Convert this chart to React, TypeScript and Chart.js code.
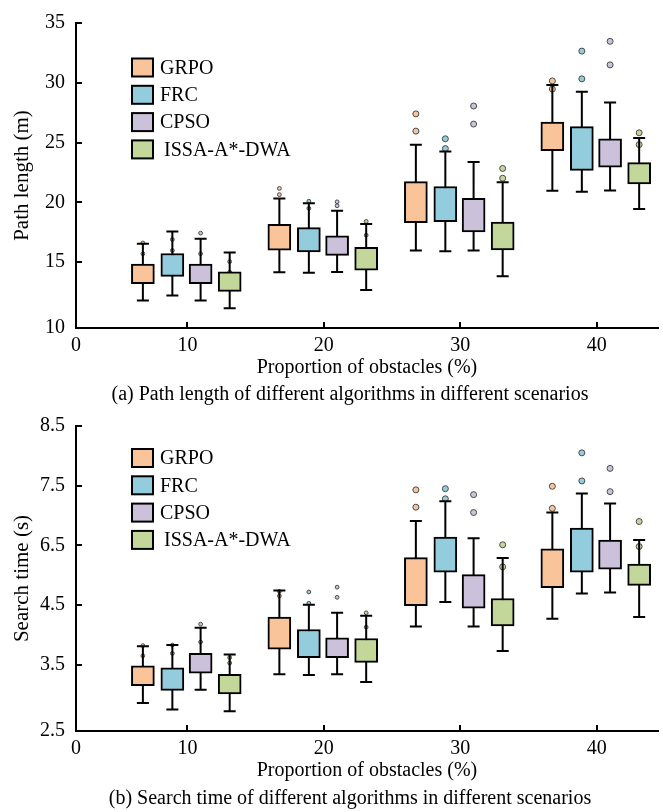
import React, { useEffect, useRef } from 'react';
import { Chart, registerables, LinearScale } from 'chart.js';

// ---------------- data ----------------
const ALGORITHMS = ['GRPO', 'FRC', 'CPSO', 'ISSA-A*-DWA'];
const COLORS = ['#F9C49A', '#93CDDD', '#CCC1DA', '#C4D79B'];
const OBSTACLE_LEVELS = [10, 20, 30, 40];
const X_TICK_LABELS = ['0', '10', '20', '30', '40'];

// (a) Path length (m): rows = algorithm, columns = obstacle level
const LENGTH_TICKS = [10, 15, 20, 25, 30, 35];
const LENGTH_WHISKER_LOW = [
  [11.8, 14.17, 15.98, 20.98],
  [12.21, 14.12, 15.92, 20.9],
  [11.8, 14.19, 15.98, 21.0],
  [11.16, 12.67, 13.82, 19.45],
];
const LENGTH_Q1 = [
  [13.21, 16.0, 18.3, 24.32],
  [13.82, 15.87, 18.38, 22.68],
  [13.21, 15.57, 17.54, 22.95],
  [12.56, 14.34, 16.03, 21.55],
];
const LENGTH_Q3 = [
  [14.85, 18.17, 21.74, 26.72],
  [15.73, 17.89, 21.33, 26.33],
  [14.85, 17.21, 20.35, 25.32],
  [14.19, 16.25, 18.36, 23.33],
];
const LENGTH_WHISKER_HIGH = [
  [16.55, 20.32, 24.83, 29.81],
  [17.56, 19.94, 24.26, 29.26],
  [16.96, 19.31, 23.38, 28.36],
  [15.81, 18.19, 21.69, 25.38],
];
const LENGTH_OUTLIERS = [
  [[16.61, 15.71], [21.17, 20.65], [27.4, 25.96], [30.16, 29.48]],
  [[16.9, 15.98], [20.1, 19.5], [25.32, 24.5], [32.65, 30.33]],
  [[17.43, 15.71], [20.05, 19.72], [28.06, 26.55], [33.47, 31.5]],
  [[15.05, 14.17], [18.41, 17.26], [22.84, 22.02], [25.82, 24.83]],
];

// (b) Search time (s)
const TIME_TICKS = [2.5, 3.5, 4.5, 6.5, 7.5, 8.5];
const TIME_WHISKER_LOW = [
  [2.86, 3.34, 4.14, 4.27],
  [2.75, 3.33, 4.6, 4.89],
  [3.08, 3.34, 4.14, 4.92],
  [2.72, 3.21, 3.73, 4.3],
];
const TIME_Q1 = [
  [3.15, 3.76, 4.49, 5.08],
  [3.07, 3.62, 5.6, 5.6],
  [3.36, 3.62, 4.45, 5.7],
  [3.01, 3.54, 4.15, 5.16],
];
const TIME_Q3 = [
  [3.48, 4.3, 6.09, 6.38],
  [3.45, 4.09, 6.64, 6.79],
  [3.69, 3.95, 5.52, 6.59],
  [3.34, 3.94, 4.72, 5.87],
];
const TIME_WHISKER_HIGH = [
  [3.81, 4.99, 6.91, 7.05],
  [3.83, 4.51, 7.24, 7.37],
  [4.12, 4.37, 6.62, 7.2],
  [3.67, 4.32, 6.08, 6.59],
];
const TIME_OUTLIERS = [
  [[3.82, 3.65], [4.96, 4.81], [7.43, 7.14], [7.49, 7.12]],
  [[3.83, 3.69], [4.94, 4.56], [7.45, 7.28], [8.05, 7.58]],
  [[4.18, 3.88], [5.1, 4.76], [7.35, 7.05], [7.79, 7.4]],
  [[3.62, 3.53], [4.37, 4.13], [6.51, 5.78], [6.9, 6.46]],
];

// ---------------- layout constants ----------------
const FONT = 'Liberation Serif';
const X_MIN = 1.84;
const X_MAX = 44.48;
const BOX_OFFSETS = [-3.26, -1.1, 0.97, 3.1];
const CAP_HALF = 0.44;
const BOX_PX = 23;

// Piecewise scale: listed tick values are evenly spaced on the axis
class PiecewiseScale extends LinearScale {
  static id = 'piecewise';
  static defaults = {};
  _idx(v: number): number {
    const b = TIME_TICKS;
    const n = b.length - 1;
    if (v <= b[1]) return (v - b[0]) / (b[1] - b[0]);
    for (let i = 1; i < n; i++) {
      if (v <= b[i + 1]) return i + (v - b[i]) / (b[i + 1] - b[i]);
    }
    return n + (v - b[n]) / (b[n] - b[n - 1]);
  }
  getPixelForValue(v: any): number {
    if (v === null || v === undefined || isNaN(v)) return NaN;
    const lo = this._idx((this as any).min);
    const hi = this._idx((this as any).max);
    return this.getPixelForDecimal((this._idx(v) - lo) / (hi - lo));
  }
  getValueForPixel(p: number): number {
    const lo = this._idx((this as any).min);
    const hi = this._idx((this as any).max);
    const idx = lo + this.getDecimalForPixel(p) * (hi - lo);
    const b = TIME_TICKS;
    const i = Math.max(0, Math.min(b.length - 2, Math.floor(idx)));
    return b[i] + (idx - i) * (b[i + 1] - b[i]);
  }
}

Chart.register(...registerables, PiecewiseScale as any);
Chart.defaults.font.family = FONT;
Chart.defaults.font.size = 20;
Chart.defaults.color = '#000';

const innerTicks = {
  id: 'innerTicks',
  afterDraw(chart: any) {
    const { ctx, chartArea } = chart;
    const xs = chart.scales.x;
    const ys = chart.scales.y;
    ctx.save();
    ctx.strokeStyle = '#000';
    ctx.lineWidth = 2;
    ctx.beginPath();
    xs.ticks.forEach((_t: any, i: number) => {
      if (i === 0) return;
      const px = Math.round(xs.getPixelForTick(i));
      ctx.moveTo(px, chartArea.bottom);
      ctx.lineTo(px, chartArea.bottom - 6);
    });
    ys.ticks.forEach((_t: any, i: number) => {
      if (i === 0) return;
      const py = Math.round(ys.getPixelForTick(i));
      ctx.moveTo(chartArea.left, py);
      ctx.lineTo(chartArea.left + 6, py);
    });
    ctx.stroke();
    ctx.restore();
  },
};

function makeLegend(firstRowOffset: number) {
  return {
    id: 'boxLegend',
    afterDraw(chart: any) {
      const { ctx, chartArea } = chart;
      ctx.save();
      ALGORITHMS.forEach((name, i) => {
        const cy = chartArea.top + firstRowOffset + i * 27.3;
        const bx = chartArea.left + 56;
        ctx.fillStyle = COLORS[i];
        ctx.fillRect(bx, cy - 9, 21, 18);
        ctx.strokeStyle = '#000';
        ctx.lineWidth = 2;
        ctx.strokeRect(bx, cy - 9, 21, 18);
        ctx.fillStyle = '#000';
        ctx.font = `20px "${FONT}"`;
        ctx.textBaseline = 'middle';
        ctx.textAlign = 'left';
        ctx.fillText(name, bx + 28 + (i === 3 ? 4 : 0), cy + 1);
      });
      ctx.restore();
    },
  };
}

function buildDatasets(low: number[][], q1: number[][], q3: number[][], high: number[][], outliers: number[][][]) {
  const sets: any[] = [];
  ALGORITHMS.forEach((name, a) => {
    const xs = OBSTACLE_LEVELS.map((lv) => lv + BOX_OFFSETS[a]);
    sets.push({
      type: 'bar',
      label: name,
      data: xs.map((x, j) => ({ x, y: [q1[a][j], q3[a][j]] })),
      backgroundColor: COLORS[a],
      borderColor: '#000',
      borderWidth: 2,
      borderSkipped: false,
      barThickness: BOX_PX,
      grouped: false,
      order: 1,
    });
    const w: any[] = [];
    xs.forEach((x, j) => {
      const lo = low[a][j];
      const hi = high[a][j];
      w.push({ x, y: lo }, { x, y: hi }, { x, y: null });
      w.push({ x: x - CAP_HALF, y: hi }, { x: x + CAP_HALF, y: hi }, { x, y: null });
      w.push({ x: x - CAP_HALF, y: lo }, { x: x + CAP_HALF, y: lo }, { x, y: null });
    });
    sets.push({
      type: 'line',
      label: name + ' whiskers',
      data: w,
      borderColor: '#000',
      borderWidth: 2,
      pointRadius: 0,
      spanGaps: false,
      fill: false,
      tension: 0,
      order: 2,
    });
    const pts: any[] = [];
    xs.forEach((x, j) => {
      outliers[a][j].forEach((v) => pts.push({ x, y: v, g: j }));
    });
    sets.push({
      type: 'scatter',
      label: name + ' outliers',
      data: pts,
      backgroundColor: COLORS[a],
      borderColor: '#4a4a4a',
      borderWidth: 1,
      pointRadius: (c: any) => (c.raw && c.raw.g < 2 ? 1.9 : 3),
      order: 3,
    });
  });
  return sets;
}

function xScale() {
  return {
    type: 'linear',
    min: X_MIN,
    max: X_MAX,
    offset: false,
    bounds: 'data',
    grid: { display: false, drawTicks: false, offset: false },
    border: { display: true, color: '#000', width: 2 },
    ticks: {
      autoSkip: false,
      maxRotation: 0,
      padding: 6,
      color: '#000',
      font: { size: 20 },
      callback: (_v: any, i: number) => X_TICK_LABELS[i],
    },
    afterBuildTicks: (s: any) => {
      s.ticks = [s.min, ...OBSTACLE_LEVELS].map((v: number) => ({ value: v }));
    },
    afterFit: (s: any) => {
      s.height = 52;
    },
    title: {
      display: true,
      text: 'Proportion of obstacles (%)',
      color: '#000',
      font: { size: 20 },
      padding: { top: 0, bottom: 0 },
    },
  };
}

function yScale(type: string, min: number, max: number, labels: number[], title: string, fmt: (v: number) => string) {
  return {
    type,
    min,
    max,
    bounds: 'data',
    grid: { display: false, drawTicks: false },
    border: { display: true, color: '#000', width: 2 },
    ticks: {
      autoSkip: false,
      padding: 11,
      color: '#000',
      font: { size: 20 },
      callback: (_v: any, i: number) => fmt(labels[i]),
    },
    afterBuildTicks: (s: any) => {
      s.ticks = [s.min, ...labels.slice(1)].map((v: number) => ({ value: v }));
    },
    afterFit: (s: any) => {
      s.width = 76;
    },
    title: {
      display: true,
      text: title,
      color: '#000',
      font: { size: 21 },
      padding: { top: 10, bottom: 0 },
    },
  };
}

function BoxChart(props: { which: 'a' | 'b' }) {
  const ref = useRef<HTMLCanvasElement | null>(null);
  useEffect(() => {
    if (!ref.current) return;
    const isA = props.which === 'a';
    const datasets = isA
      ? buildDatasets(LENGTH_WHISKER_LOW, LENGTH_Q1, LENGTH_Q3, LENGTH_WHISKER_HIGH, LENGTH_OUTLIERS)
      : buildDatasets(TIME_WHISKER_LOW, TIME_Q1, TIME_Q3, TIME_WHISKER_HIGH, TIME_OUTLIERS);
    const y = isA
      ? yScale('linear', 9.5, 35, LENGTH_TICKS, 'Path length (m)', (v) => String(v))
      : yScale('piecewise', 2.39, 8.5, TIME_TICKS, 'Search time (s)', (v) => v.toFixed(1));
    const chart = new Chart(ref.current, {
      type: 'bar',
      data: { datasets },
      options: {
        responsive: false,
        animation: false,
        events: [],
        layout: { padding: { top: isA ? 17 : 18, bottom: 25, left: 0, right: 0 } },
        plugins: { legend: { display: false }, tooltip: { enabled: false }, title: { display: false } },
        scales: { x: xScale(), y } as any,
      },
      plugins: [innerTicks, makeLegend(isA ? 44.5 : 32)],
    } as any);
    return () => chart.destroy();
  }, [props.which]);
  return (
    <canvas
      ref={ref}
      width={663}
      height={405}
      style={{ position: 'absolute', left: 0, top: props.which === 'a' ? 0 : 403, width: 663, height: 405 }}
    />
  );
}

const captionStyle: React.CSSProperties = {
  position: 'absolute',
  left: 0,
  width: 700,
  textAlign: 'center',
  fontFamily: FONT,
  fontSize: 20,
  lineHeight: '24px',
  whiteSpace: 'nowrap',
  color: '#000',
};

export default function App() {
  return (
    <div style={{ position: 'absolute', left: 0, top: 0, width: 663, height: 812, background: '#fff', overflow: 'hidden' }}>
      <BoxChart which="a" />
      <BoxChart which="b" />
      <div style={{ ...captionStyle, top: 381 }}>(a) Path length of different algorithms in different scenarios</div>
      <div style={{ ...captionStyle, top: 785 }}>(b) Search time of different algorithms in different scenarios</div>
    </div>
  );
}
